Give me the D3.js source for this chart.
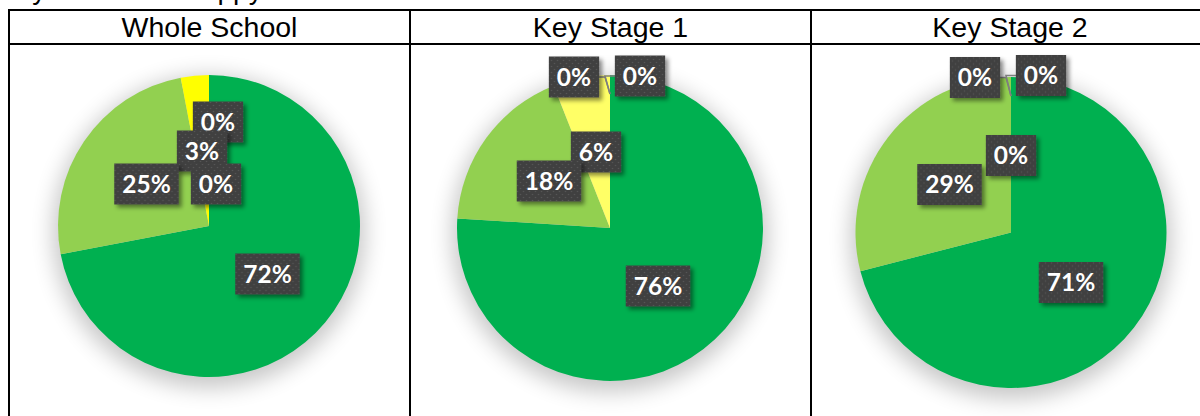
<!DOCTYPE html>
<html>
<head>
<meta charset="utf-8">
<script src="https://cdn.jsdelivr.net/npm/d3@7"></script>
<style>
  body { margin: 0; background: #fff; }
  svg { display: block; }
</style>
</head>
<body>
<svg id="chart" width="1200" height="416"></svg>
<script>
// ---- data ----
const title = "My child feels happy at school";
const groups = ["Whole School", "Key Stage 1", "Key Stage 2"];
const categories = ["Strongly agree", "Agree", "Don't know", "Disagree", "Strongly disagree"];
const wholeSchool = [72, 25, 0, 3, 0];
const keyStage1 = [76, 18, 6, 0, 0];
const keyStage2 = [71, 29, 0, 0, 0];
const seriesByGroup = [wholeSchool, keyStage1, keyStage2];

// ---- styles & layout ----
const colours = ["#00B050", "#92D050", "#FFFF66", "#FFFF00", "#FF0000"];
const cellEdges = [9, 410, 811, 1209];
const headerTop = 10, headerBottom = 44;
const pieLayout = [
  { cx: 209, cy: 226, r: 151 },
  { cx: 610, cy: 228, r: 153 },
  { cx: 1011, cy: 232.5, r: 155.5 }
];
// label box centres relative to each pie centre, one per category
const labelOffsets = [
  [[58.5, 48], [-62.5, -42], [7, -42], [-7, -75], [9, -104]],
  [[48, 58], [-61, -47], [-14, -76], [-36, -151], [30, -152]],
  [[60, 50], [-61.5, -48], [0, -77], [-36, -155], [30, -157]]
];
// which labels get a leader line back to their slice
const leaderFor = [[], [3, 4], [3, 4]];

const svg = d3.select("#chart");
const defs = svg.append("defs");

// soft halo under each pie
const halo = defs.append("filter").attr("id", "halo")
  .attr("x", "-30%").attr("y", "-30%").attr("width", "160%").attr("height", "160%");
halo.append("feGaussianBlur").attr("stdDeviation", 11);

// drop shadow under label boxes
const boxShadow = defs.append("filter").attr("id", "boxShadow")
  .attr("x", "-20%").attr("y", "-20%").attr("width", "150%").attr("height", "160%");
boxShadow.append("feDropShadow").attr("dx", 3).attr("dy", 3)
  .attr("stdDeviation", 2).attr("flood-color", "#000").attr("flood-opacity", 0.45);

// dotted dark fill for label boxes
const dots = defs.append("pattern").attr("id", "dots")
  .attr("width", 6).attr("height", 6).attr("patternUnits", "userSpaceOnUse");
dots.append("rect").attr("width", 6).attr("height", 6).attr("fill", "#404040");
dots.append("circle").attr("cx", 1.5).attr("cy", 1.5).attr("r", 0.8).attr("fill", "#555555");
dots.append("circle").attr("cx", 4.5).attr("cy", 4.5).attr("r", 0.8).attr("fill", "#555555");

// title (sits mostly above the visible area)
svg.append("text")
  .attr("x", 9).attr("y", -1)
  .attr("font-family", "'Liberation Sans', Arial, sans-serif")
  .attr("font-size", 28)
  .attr("fill", "#000")
  .text(title);

// table grid
const grid = svg.append("g").attr("stroke", "#000").attr("stroke-width", 2).attr("fill", "none");
grid.append("line").attr("x1", cellEdges[0] - 1).attr("x2", 1210).attr("y1", headerTop).attr("y2", headerTop);
grid.append("line").attr("x1", cellEdges[0] - 1).attr("x2", 1210).attr("y1", headerBottom).attr("y2", headerBottom);
cellEdges.forEach(x => {
  grid.append("line").attr("x1", x).attr("x2", x).attr("y1", headerTop - 1).attr("y2", 420);
});

// headers
groups.forEach((g, i) => {
  svg.append("text")
    .attr("x", (cellEdges[i] + cellEdges[i + 1]) / 2)
    .attr("y", 37)
    .attr("text-anchor", "middle")
    .attr("font-family", "'Liberation Sans', Arial, sans-serif")
    .attr("font-size", 28.5)
    .attr("fill", "#000")
    .text(g);
});

const pie = d3.pie().sort(null).value(d => d).startAngle(0).endAngle(2 * Math.PI);

seriesByGroup.forEach((values, gi) => {
  const L = pieLayout[gi];
  const arc = d3.arc().innerRadius(0).outerRadius(L.r);
  const g = svg.append("g").attr("transform", `translate(${L.cx},${L.cy})`);

  g.append("circle")
    .attr("cx", 0).attr("cy", 6).attr("r", L.r + 5)
    .attr("fill", "#000").attr("opacity", 0.22)
    .attr("filter", "url(#halo)");

  const arcs = pie(values);
  g.selectAll("path.slice").data(arcs).join("path")
    .attr("class", "slice")
    .attr("d", arc)
    .attr("fill", (d, i) => colours[i]);

  // leader lines
  leaderFor[gi].forEach(ci => {
    const [ox, oy] = labelOffsets[gi][ci];
    const a = (arcs[ci].startAngle + arcs[ci].endAngle) / 2;
    const ax = Math.sin(a) * (L.r - 19), ay = -Math.cos(a) * (L.r - 19);
    const edgeX = ox < 0 ? ox + 25 : ox - 25;
    g.append("polyline")
      .attr("points", [[edgeX, oy], [ax - 5, oy], [ax, ay]].map(p => p.join(",")).join(" "))
      .attr("fill", "none").attr("stroke", "#7f7f7f").attr("stroke-width", 1.5);
  });

  // value labels, later categories first so the big ones sit on top
  const order = d3.range(values.length).reverse();
  order.forEach(ci => {
    const [ox, oy] = labelOffsets[gi][ci];
    const lg = g.append("g").attr("transform", `translate(${ox},${oy})`);
    const box = lg.append("rect").attr("fill", "url(#dots)").attr("filter", "url(#boxShadow)");
    const t = lg.append("text")
      .attr("text-anchor", "middle").attr("dy", "0.36em")
      .attr("font-family", "Lato, 'Open Sans', sans-serif")
      .attr("font-weight", "bold").attr("font-size", 24.5)
      .attr("fill", "#fff")
      .text(values[ci] + "%");
    const w = t.node().getComputedTextLength() + 16;
    box.attr("x", -w / 2).attr("y", -20.5).attr("width", w).attr("height", 41);
  });
});
</script>
</body>
</html>
